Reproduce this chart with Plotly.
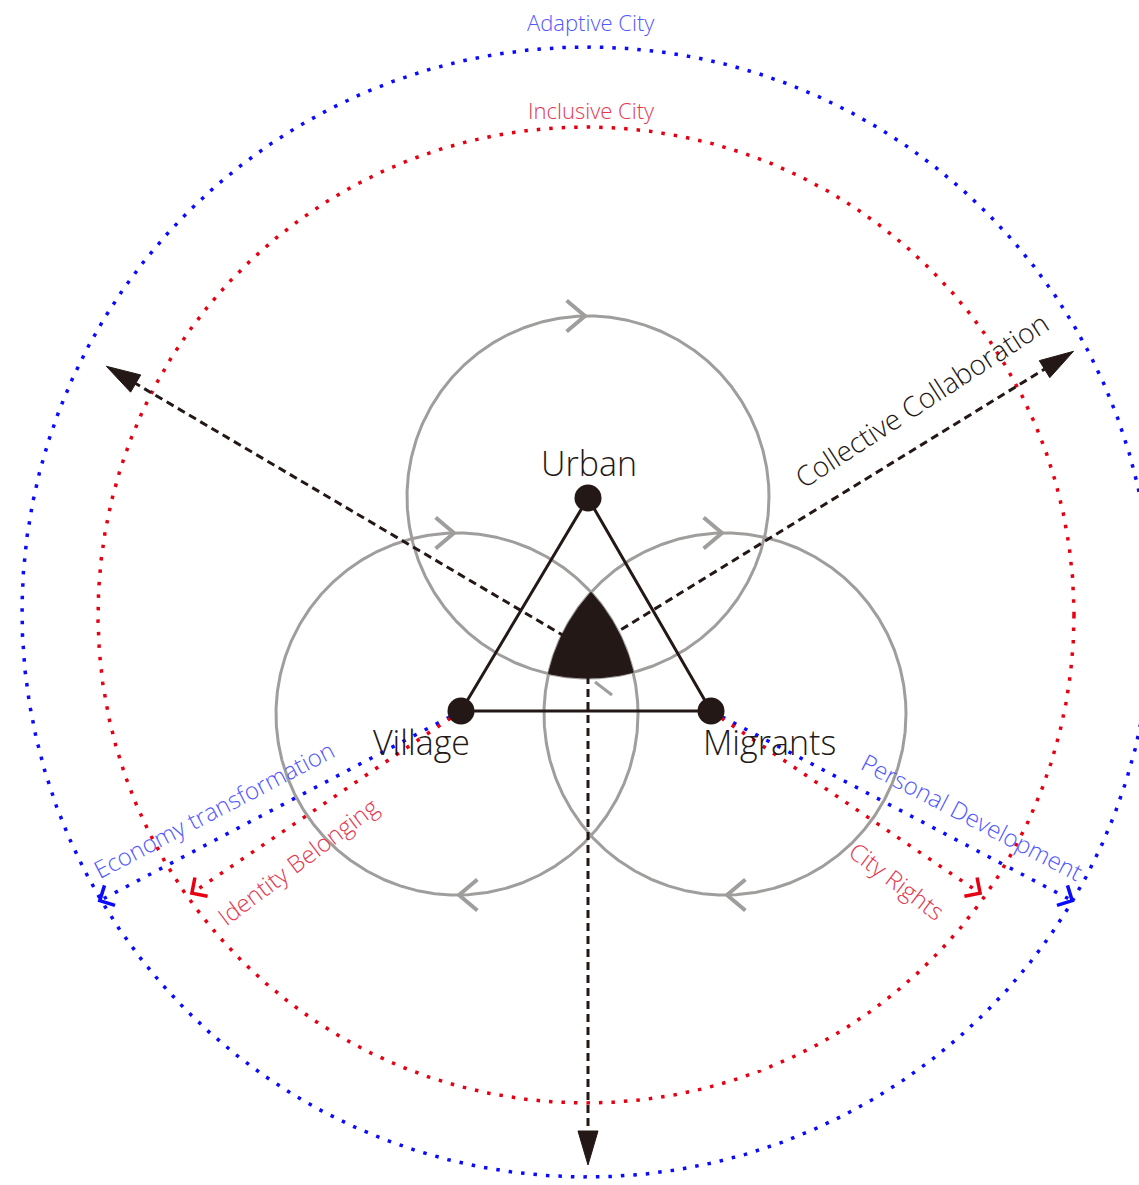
import numpy as np
import plotly.graph_objects as go

W, H = 1139, 1185

# ---------------- diagram content ----------------
node_names = ["Urban", "Village", "Migrants"]
node_x = [588, 461, 711]
node_y = [498, 711, 711]
node_label_x = [589, 421, 769]
node_label_y = [463, 742, 742]

cycle_cx = [588, 457, 725]
cycle_cy = [497, 714, 714]
cycle_r = 181
# chevrons on the cycles: (circle index, at top?, pointing +1 right / -1 left)
cycle_marks = [(0, "top", 1), (1, "top", 1), (2, "top", 1), (1, "bottom", -1), (2, "bottom", -1)]

ring_names = ["Adaptive City", "Inclusive City"]
ring_cx = [587, 586]
ring_cy = [612, 615]
ring_r = [565, 488]
ring_label_y = [22, 110]

hub_x, hub_y = 588, 650
arrow_angles = [210.5, -31.6, 90.0]
arrow_lengths = [559, 570, 515]
arrow_label = "Collective Collaboration"

branch_left = ["Economy transformation", "Identity Belonging"]
branch_right = ["Personal Development", "City Rights"]
branch_angle = [27.7, 34.1]
branch_len = [408, 325]
branch_left_xy = [(213, 809), (297, 861)]
branch_right_xy = [(972, 816), (897, 880)]
branch_text_angle = [27.5, 37.0]

INK = "#231815"
GRAY = "#a09e9d"
BLUE = "#0a0aff"
RED = "#e60012"
BLUE_TXT = "#5258ff"
RED_TXT = "#e4374f"
FONT = "Open Sans"

fig = go.Figure()


def line(xs, ys, color, width, dash="solid", fill=None):
    fig.add_trace(go.Scatter(x=list(xs), y=list(ys), mode="lines",
                             line=dict(color=color, width=width, dash=dash),
                             fill=fill, fillcolor=color if fill else None,
                             hoverinfo="skip", showlegend=False))


def circle_pts(cx, cy, r, n=721):
    t = np.linspace(0, 2 * np.pi, n)
    return cx + r * np.cos(t), cy + r * np.sin(t)


def chevron(vx, vy, ang_deg, arm, half_deg, color, width):
    a = np.radians(ang_deg)
    pts_x, pts_y = [], []
    for s in (1, -1):
        b = a + np.pi + s * np.radians(half_deg)
        pts_x.append(vx + arm * np.cos(b))
        pts_y.append(vy + arm * np.sin(b))
    line([pts_x[0], vx, pts_x[1]], [pts_y[0], vy, pts_y[1]], color, width)


# big dotted rings
for cx, cy, r, col in zip(ring_cx, ring_cy, ring_r, [BLUE, RED]):
    xs, ys = circle_pts(cx, cy, r, 1441)
    line(xs, ys, col, 3.5, dash="3.5px,9px")

# gray cycles
for cx, cy in zip(cycle_cx, cycle_cy):
    xs, ys = circle_pts(cx, cy, cycle_r)
    line(xs, ys, GRAY, 3)
for idx, where, d in cycle_marks:
    vx = cycle_cx[idx] + (-3 if d > 0 else 2)
    vy = cycle_cy[idx] + (-cycle_r if where == "top" else cycle_r)
    chevron(vx, vy, 0 if d > 0 else 180, 24, 40, GRAY, 4)
line([595, 612], [682, 695], GRAY, 3)

# dashed arrows from the hub
for ang, L in zip(arrow_angles, arrow_lengths):
    a = np.radians(ang)
    ux, uy = np.cos(a), np.sin(a)
    tipx, tipy = hub_x + L * ux, hub_y + L * uy
    head = 34
    bx, by = tipx - head * ux, tipy - head * uy
    line([hub_x, bx], [hub_y, by], INK, 3, dash="8px,5px")
    px, py = -uy, ux
    hw = 10
    line([tipx, bx + hw * px, bx - hw * px, tipx],
         [tipy, by + hw * py, by - hw * py, tipy], INK, 1, fill="toself")

# triangle
line(node_x + [node_x[0]], node_y + [node_y[0]], INK, 3)


# black core = intersection of the three cycles
def intersect(c1, c2, r):
    (x1, y1), (x2, y2) = c1, c2
    d = np.hypot(x2 - x1, y2 - y1)
    a = d / 2
    h = np.sqrt(r * r - a * a)
    mx, my = x1 + (x2 - x1) / 2, y1 + (y2 - y1) / 2
    ox, oy = -(y2 - y1) / d * h, (x2 - x1) / d * h
    return [(mx + ox, my + oy), (mx - ox, my - oy)]


def closest(pts):
    return min(pts, key=lambda p: np.hypot(p[0] - hub_x, p[1] - hub_y))


def arc(c, r, p1, p2, n=60):
    a1 = np.arctan2(p1[1] - c[1], p1[0] - c[0])
    a2 = np.arctan2(p2[1] - c[1], p2[0] - c[0])
    dd = (a2 - a1 + np.pi) % (2 * np.pi) - np.pi
    t = a1 + dd * np.linspace(0, 1, n)
    return c[0] + r * np.cos(t), c[1] + r * np.sin(t)


C = [(x, y) for x, y in zip(cycle_cx, cycle_cy)]
p_top = closest(intersect(C[1], C[2], cycle_r))   # left & right cycles
p_bl = closest(intersect(C[0], C[2], cycle_r))    # top & right cycles
p_br = closest(intersect(C[0], C[1], cycle_r))    # top & left cycles
a1 = arc(C[2], cycle_r, p_top, p_bl)
a2 = arc(C[0], cycle_r, p_bl, p_br)
a3 = arc(C[1], cycle_r, p_br, p_top)
sx = np.concatenate([a1[0], a2[0], a3[0]])
sy = np.concatenate([a1[1], a2[1], a3[1]])
line(sx, sy, INK, 1, fill="toself")

# dotted branch lines with open chevrons
for k, col in enumerate([BLUE, RED]):
    for side, origin in ((-1, 1), (1, 2)):
        ang = branch_angle[k] if side > 0 else 180 - branch_angle[k]
        a = np.radians(ang)
        ox, oy = node_x[origin], node_y[origin]
        ex, ey = ox + branch_len[k] * np.cos(a), oy + branch_len[k] * np.sin(a)
        line([ox, ex], [oy, ey], col, 3.5, dash="3.5px,9px")
        chevron(ex, ey, ang, 16, 45, col, 3.5)

# node dots
fig.add_trace(go.Scatter(x=node_x, y=node_y, mode="markers",
                         marker=dict(size=27, color=INK, line=dict(width=0)),
                         hoverinfo="skip", showlegend=False))

# ---------------- text ----------------
ann = []


def text(t, x, y, size, color, angle=0):
    ann.append(dict(text=t, x=x, y=y, xref="x", yref="y", showarrow=False,
                    xanchor="center", yanchor="middle", textangle=angle,
                    font=dict(family=FONT, size=size, color=color, weight=300)))


for n, x, y in zip(node_names, node_label_x, node_label_y):
    text(n, x, y, 34, INK)
text(arrow_label, 921, 400, 28, INK, -33)
for n, y, col in zip(ring_names, ring_label_y, [BLUE_TXT, RED_TXT]):
    text(n, 591, y, 22, col)
for k, col in enumerate([BLUE_TXT, RED_TXT]):
    text(branch_left[k], *branch_left_xy[k], 24, col, -branch_text_angle[k])
    text(branch_right[k], *branch_right_xy[k], 24, col, branch_text_angle[k])

fig.update_layout(
    width=W, height=H, autosize=False,
    margin=dict(l=0, r=0, t=0, b=0),
    paper_bgcolor="white", plot_bgcolor="white",
    xaxis=dict(range=[0, W], visible=False, fixedrange=True),
    yaxis=dict(range=[H, 0], visible=False, fixedrange=True),
    annotations=ann,
)
fig.write_html("out.html", config={"displayModeBar": False},
               post_script="document.body.style.margin='0';document.body.style.overflow='hidden';")
